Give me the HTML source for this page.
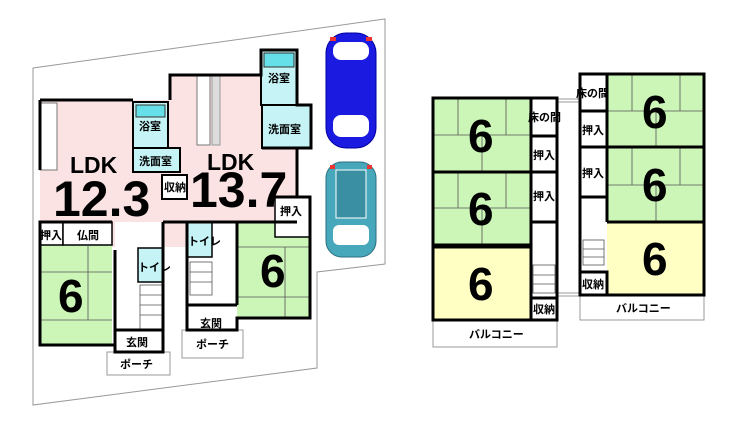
<!DOCTYPE html>
<html><head><meta charset="utf-8"><style>
html,body{margin:0;padding:0;background:#fff}
svg{display:block}
text{font-family:"Liberation Sans","Noto Sans CJK JP",sans-serif;fill:#000}
.j{font-size:11px;font-weight:bold}
.n{font-size:46px;font-weight:bold}
.w{fill:none;stroke:#000;stroke-width:3}
.t{stroke:#555;stroke-width:0.8;fill:none}
.g{fill:#ccf5b8}
.y{fill:#ffffc4}
.p{fill:#fbe3e3}
.c{fill:#c6f3f6}
</style></head><body>
<svg width="740" height="426" viewBox="0 0 740 426" xmlns="http://www.w3.org/2000/svg">
<polygon points="33,68 385,19 385,264 317,272 317,368 33,405" fill="#fff" stroke="#999" stroke-width="1"/>

<rect class="p" x="40" y="100" width="147" height="122"/>
<rect class="p" x="170" y="75" width="127" height="147"/>
<rect class="p" x="112" y="222" width="75" height="25"/>
<rect x="40" y="103" width="17" height="67" fill="#fff" stroke="#777"/>
<rect x="197" y="75" width="13" height="70" fill="#fff" stroke="#777"/>
<rect x="212" y="75" width="8" height="70" fill="#ddd" stroke="#999"/>
<rect class="c" x="133" y="102" width="35" height="46" stroke="#000" stroke-width="2"/>
<rect x="136" y="105" width="29" height="12" fill="#66e0e8" stroke="#333"/>
<rect class="c" x="133" y="148" width="47" height="24" stroke="#000" stroke-width="2"/>
<rect x="162" y="175" width="25" height="24" fill="#fff" stroke="#000" stroke-width="2"/>
<rect class="c" x="261" y="50" width="36" height="55" stroke="#000" stroke-width="2"/>
<rect x="264" y="53" width="30" height="14" fill="#66e0e8" stroke="#333"/>
<rect class="c" x="262" y="105" width="49" height="43" stroke="#000" stroke-width="2"/>
<rect class="g" x="40" y="245" width="72" height="100"/>
<rect x="40" y="222" width="23" height="23" fill="#fff" stroke="#000" stroke-width="1.5"/>
<rect x="63" y="222" width="49" height="23" fill="#fff" stroke="#000" stroke-width="1.5"/>
<rect class="g" x="237" y="222" width="73" height="96"/>
<rect x="275" y="197" width="35" height="40" fill="#fff" stroke="#000" stroke-width="1.5"/>
<g class="t">
<line x1="40" y1="272" x2="112" y2="272"/><line x1="40" y1="320" x2="112" y2="320"/><line x1="88" y1="245" x2="88" y2="320"/>
<line x1="237" y1="247" x2="310" y2="247"/><line x1="237" y1="297" x2="310" y2="297"/><line x1="285" y1="247" x2="285" y2="318"/>
</g>
<rect x="115" y="222" width="48" height="130" fill="#fff"/>
<rect class="c" x="138" y="248" width="25" height="34" stroke="#000" stroke-width="1.5"/>
<g class="t"><rect x="140" y="285" width="22" height="45"/><line x1="140" y1="295" x2="162" y2="295"/><line x1="140" y1="305" x2="162" y2="305"/><line x1="140" y1="315" x2="162" y2="315"/></g>
<rect x="107" y="352" width="63" height="23" fill="#fff" stroke="#999"/>
<rect class="c" x="187" y="222" width="25" height="35" stroke="#000" stroke-width="1.5"/>
<g class="t"><rect x="190" y="262" width="22" height="33"/><line x1="190" y1="272" x2="212" y2="272"/><line x1="190" y1="282" x2="212" y2="282"/></g>
<rect x="182" y="330" width="61" height="28" fill="#fff" stroke="#999"/>
<polyline class="w" points="40,100 40,170"/>
<polyline class="w" points="40,100 133,100"/>
<polyline class="w" points="170,100 170,75 261,75 261,50 297,50 297,105 311,105 311,148 262,148"/>
<polyline class="w" points="297,148 297,197"/>
<polyline class="w" points="275,197 310,197 310,318 237,318 237,330 187,330 187,222"/>
<polyline class="w" points="163,222 297,222"/>
<polyline class="w" points="163,222 163,352 115,352 115,345 40,345 40,222 112,222"/>
<polyline class="w" points="115,330 163,330"/><polyline class="w" points="187,305 237,305"/>
<polyline class="w" points="237,222 237,305"/><polyline class="w" points="115,250 115,345"/>
<text x="70" y="173" style="font-size:23px;font-weight:bold">LDK</text>
<text x="53" y="216" style="font-size:50px;font-weight:bold">12.3</text>
<text x="207" y="170" style="font-size:23px;font-weight:bold">LDK</text>
<text x="190" y="207" style="font-size:50px;font-weight:bold">13.7</text>
<text class="j" x="139" y="130">浴室</text>
<text class="j" x="139" y="165">洗面室</text>
<text class="j" x="164" y="191">収納</text>
<text class="j" x="268" y="82">浴室</text>
<text class="j" x="268" y="133">洗面室</text>
<text class="j" x="280" y="215">押入</text>
<text class="j" x="40" y="239">押入</text>
<text class="j" x="77" y="239">仏間</text>
<text class="n" x="58" y="312">6</text>
<text class="n" x="260" y="287">6</text>
<text class="j" x="138" y="271" font-size="10">トイレ</text>
<text class="j" x="188" y="245" font-size="10">トイレ</text>
<text class="j" x="126" y="346">玄関</text>
<text class="j" x="200" y="327">玄関</text>
<text class="j" x="120" y="368">ポーチ</text>
<text class="j" x="196" y="348">ポーチ</text>

<g>
<rect x="326" y="33" width="50" height="115" rx="20" fill="#1a1ae0" stroke="#0000a0"/>
<rect x="333" y="42" width="36" height="18" rx="8" fill="#fff"/>
<rect x="333" y="115" width="36" height="22" rx="8" fill="#fff"/>
<rect x="340" y="60" width="24" height="50" fill="#1a1ae0"/>
<rect x="330" y="37" width="6" height="4" fill="#e33"/><rect x="366" y="37" width="6" height="4" fill="#e33"/>
</g>
<g>
<rect x="326" y="162" width="50" height="95" rx="16" fill="#48a8bb" stroke="#2a6e80"/>
<rect x="336" y="170" width="30" height="48" fill="#3a8fa3" stroke="#fff"/>
<rect x="333" y="225" width="36" height="20" rx="6" fill="#fff"/>
<rect x="330" y="165" width="5" height="4" fill="#e33"/><rect x="367" y="165" width="5" height="4" fill="#e33"/>
</g>

<g stroke="#999" fill="none"><line x1="557" y1="99" x2="580" y2="99"/><line x1="557" y1="102" x2="580" y2="102"/><line x1="557" y1="293" x2="580" y2="293"/><line x1="557" y1="296" x2="580" y2="296"/></g>

<rect class="g" x="433" y="98" width="98" height="147"/>
<rect class="y" x="433" y="247" width="98" height="73"/>
<rect x="433" y="320" width="124" height="27" fill="#fff" stroke="#999"/>
<g class="t">
<line x1="433" y1="135" x2="531" y2="135"/><line x1="458" y1="98" x2="458" y2="135"/><line x1="506" y1="98" x2="506" y2="135"/><line x1="482" y1="135" x2="482" y2="172"/>
<line x1="433" y1="208" x2="531" y2="208"/><line x1="458" y1="172" x2="458" y2="208"/><line x1="506" y1="172" x2="506" y2="208"/><line x1="482" y1="208" x2="482" y2="245"/>
<rect x="533" y="265" width="22" height="28"/><line x1="533" y1="275" x2="555" y2="275"/><line x1="533" y1="284" x2="555" y2="284"/>
</g>
<polyline class="w" points="531,98 557,98 557,222"/>
<polyline class="w" points="433,98 531,98 531,245 433,245"/>
<polyline class="w" points="433,172 531,172"/>
<rect class="w" x="433" y="98" width="124" height="222" style="fill:none"/>
<polyline class="w" points="531,136 557,136"/><polyline class="w" points="531,172 557,172"/><polyline class="w" points="531,222 557,222"/>
<polyline class="w" points="433,247 531,247 531,320"/><polyline class="w" points="531,298 557,298"/>
<text class="j" x="528" y="121">床の間</text>
<text class="j" x="533" y="159">押入</text>
<text class="j" x="533" y="200">押入</text>
<text class="j" x="533" y="313">収納</text>
<text class="j" x="469" y="338">バルコニー</text>
<text class="n" x="468" y="152">6</text>
<text class="n" x="468" y="225">6</text>
<text class="n" x="468" y="300">6</text>

<rect class="g" x="607" y="74" width="97" height="148"/>
<rect class="y" x="607" y="222" width="97" height="73"/>
<rect x="580" y="295" width="124" height="25" fill="#fff" stroke="#999"/>
<g class="t">
<line x1="607" y1="111" x2="704" y2="111"/><line x1="632" y1="74" x2="632" y2="111"/><line x1="680" y1="74" x2="680" y2="111"/><line x1="656" y1="111" x2="656" y2="147"/>
<line x1="607" y1="185" x2="704" y2="185"/><line x1="632" y1="148" x2="632" y2="185"/><line x1="680" y1="148" x2="680" y2="185"/><line x1="656" y1="185" x2="656" y2="222"/>
<rect x="583" y="240" width="21" height="25"/><line x1="583" y1="249" x2="604" y2="249"/><line x1="583" y1="257" x2="604" y2="257"/>
</g>
<rect class="w" x="580" y="74" width="124" height="221" style="fill:none"/>
<polyline class="w" points="607,74 607,222"/>
<polyline class="w" points="607,147 704,147"/><polyline class="w" points="607,222 704,222"/>
<polyline class="w" points="580,111 607,111"/><polyline class="w" points="580,147 607,147"/><polyline class="w" points="580,197 607,197"/>
<polyline class="w" points="580,272 607,272 607,295"/>
<text class="j" x="576" y="97">床の間</text>
<text class="j" x="582" y="134">押入</text>
<text class="j" x="582" y="177">押入</text>
<text class="j" x="582" y="288">収納</text>
<text class="j" x="616" y="312">バルコニー</text>
<text class="n" x="642" y="128">6</text>
<text class="n" x="642" y="201">6</text>
<text class="n" x="642" y="275">6</text>
</svg>
</body></html>
